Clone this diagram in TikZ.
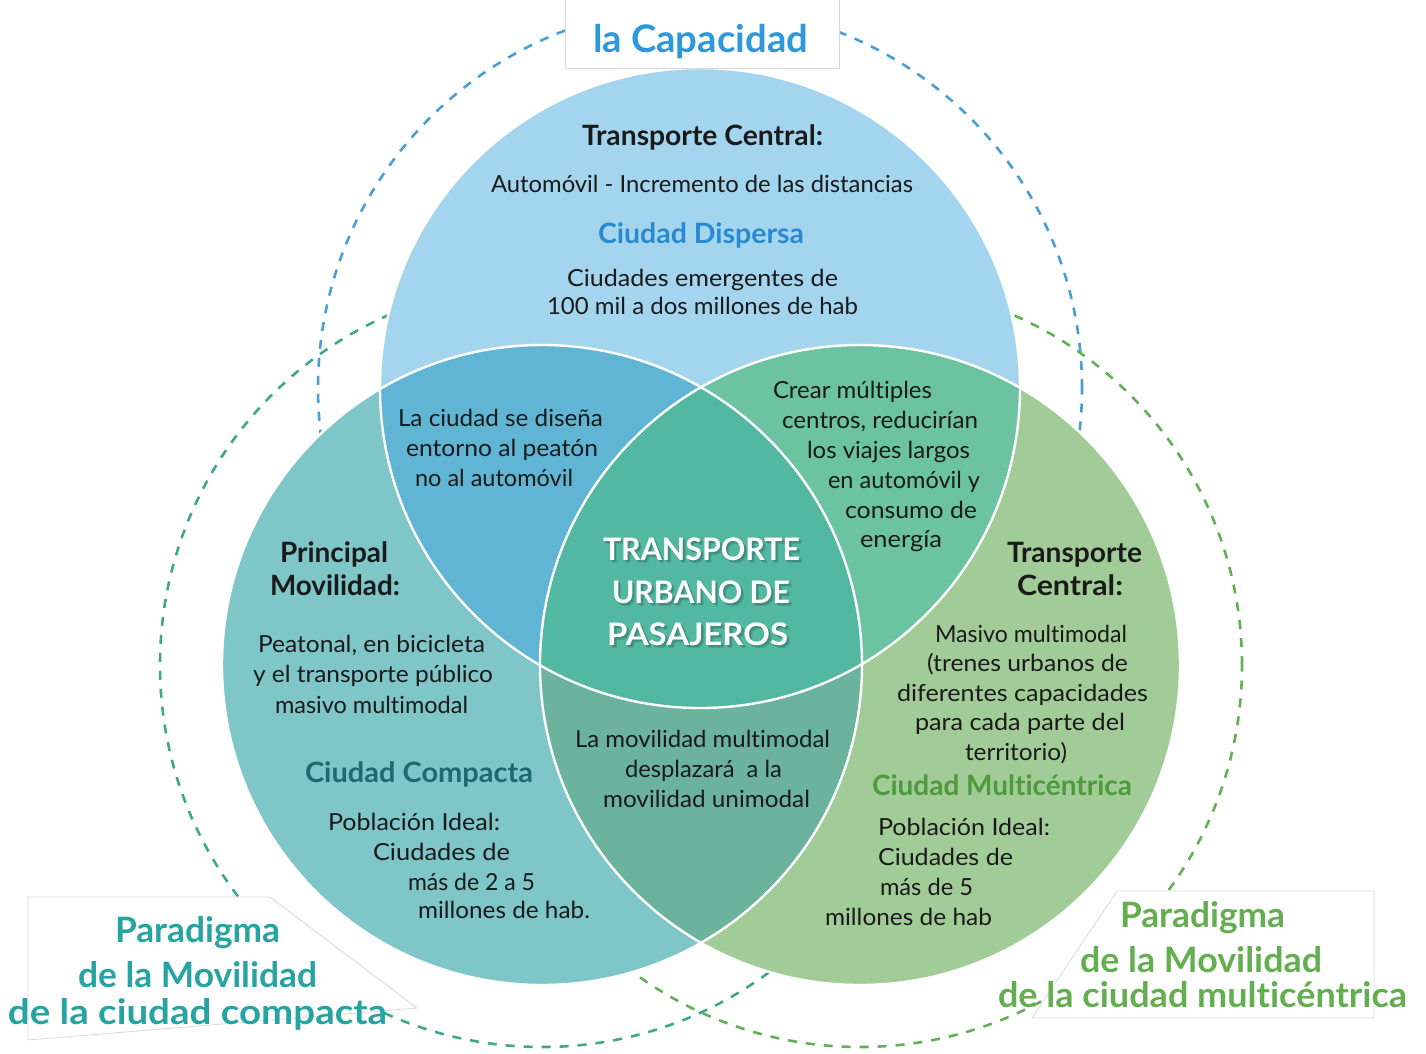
\documentclass[tikz,border=0pt]{standalone}
\usepackage{fontspec}
\usepackage{graphicx}
\setmainfont{Lato}[Ligatures={NoCommon}]
\definecolor{cTop}{HTML}{A4D5EE}
\definecolor{cLeft}{HTML}{7EC6C7}
\definecolor{cRight}{HTML}{A1CC97}
\definecolor{cTL}{HTML}{60B5D4}
\definecolor{cTR}{HTML}{6CC3A2}
\definecolor{cLR}{HTML}{6CB39E}
\definecolor{cC}{HTML}{53B8A1}
\definecolor{shA}{HTML}{4AA492}
\definecolor{shB}{HTML}{3E8F7F}
\definecolor{dBlue}{HTML}{4A9ED6}
\definecolor{dTeal}{HTML}{3DA98A}
\definecolor{dGreen}{HTML}{62B055}
\definecolor{ink}{HTML}{1A1A1A}
\definecolor{tBlue}{HTML}{2E98DA}
\definecolor{tBlueB}{HTML}{2A8ACF}
\definecolor{tTeal}{HTML}{27A4A1}
\definecolor{tDTeal}{HTML}{1F6A6C}
\definecolor{tGreen}{HTML}{63AF50}
\definecolor{tDGreen}{HTML}{4D9B3D}
\definecolor{boxline}{HTML}{DADADA}
\newsavebox\fwbox
\newcommand\fw[2]{\sbox\fwbox{#2}\pgfmathsetmacro\fwscale{#1/\the\wd\fwbox}\scalebox{\fwscale}[1]{\usebox\fwbox}}
% text with a soft dark shadow, kept inside the same node
\newcommand\shtext[1]{\rlap{\kern3pt\raisebox{-3pt}{\color{shA}#1}}\rlap{\kern2pt\raisebox{-2pt}{\color{shB}#1}}#1}
\tikzset{
  txt/.style={inner sep=0pt, outer sep=0pt, anchor=base west, text=ink, font=\fontsize{23.5}{28}\selectfont},
  hd/.style={txt, font=\fontsize{28}{32}\selectfont\bfseries},
  sub/.style={txt, font=\fontsize{28}{32}\selectfont\bfseries},
  ctr/.style={txt, text=white, font=\fontsize{31}{36}\selectfont\bfseries},
  para/.style={txt, font=\fontsize{35}{40}\selectfont\bfseries},
  dashring/.style={line width=2.6pt, dash pattern=on 9pt off 9pt},
  ring/.style={draw=white, line width=2.4pt},
  labelbox/.style={fill=white, draw=boxline, line width=0.8pt}
}
\begin{document}
\begin{tikzpicture}[x=1pt,y=-1pt]
\useasboundingbox (0,0) rectangle (1426,1053);
\fill[white] (0,0) rectangle (1426,1053);
\coordinate (T) at (700,388);
\coordinate (L) at (542,665);
\coordinate (R) at (860,665);
% dashed outer rings
\draw[dashring, dBlue] (T) circle (382pt);
\draw[dashring, dTeal] (L) circle (382pt);
\draw[dashring, dGreen] (R) circle (382pt);
% circles
\fill[cTop] (T) circle (320pt);
\fill[cLeft] (L) circle (320pt);
\fill[cRight] (R) circle (320pt);
\begin{scope}\clip (T) circle (320pt); \fill[cTL] (L) circle (320pt); \end{scope}
\begin{scope}\clip (T) circle (320pt); \fill[cTR] (R) circle (320pt); \end{scope}
\begin{scope}\clip (L) circle (320pt); \fill[cLR] (R) circle (320pt); \end{scope}
\begin{scope}\clip (T) circle (320pt); \clip (L) circle (320pt); \fill[cC] (R) circle (320pt); \end{scope}
\draw[ring] (T) circle (320pt);
\draw[ring] (L) circle (320pt);
\draw[ring] (R) circle (320pt);
% label boxes
\filldraw[labelbox] (565,-5) rectangle (839,68);
\filldraw[labelbox] (28,897) -- (270,897) -- (417,1008) -- (28,1040) -- cycle;
\filldraw[labelbox] (1117,891) -- (1374,891) -- (1374,1018) -- (1032,1018) -- cycle;
% label texts
\node[para, text=tBlue, font=\fontsize{38}{42}\selectfont\bfseries] (cap) at (593,52) {\fw{215}{la Capacidad}};
\node[para, text=tTeal] (pl1) at (115,942) {\fw{165}{Paradigma}};
\node[para, text=tTeal] (pl2) at (78,987) {\fw{239}{de la Movilidad}};
\node[para, text=tTeal] (pl3) at (8,1024) {\fw{379}{de la ciudad compacta}};
\node[para, text=tGreen] (pr1) at (1120,927) {\fw{165}{Paradigma}};
\node[para, text=tGreen] (pr2) at (1080,972) {\fw{242}{de la Movilidad}};
\node[para, text=tGreen] (pr3) at (998,1007) {\fw{409}{de la ciudad multicéntrica}};
% top circle
\node[hd] (t1) at (582,145) {\fw{241}{Transporte Central:}};
\node[txt] (t2) at (491,192) {\fw{422}{Automóvil - Incremento de las distancias}};
\node[sub, text=tBlueB] (t3) at (598,243) {\fw{206}{Ciudad Dispersa}};
\node[txt] (t4) at (567,286) {\fw{271}{Ciudades emergentes de}};
\node[txt] (t5) at (547,314) {\fw{311}{100 mil a dos millones de hab}};
% top-left lens
\node[txt] (a1) at (398,426) {\fw{205}{La ciudad se diseña}};
\node[txt] (a2) at (406,456) {\fw{192}{entorno al peatón}};
\node[txt] (a3) at (415,486) {\fw{158}{no al automóvil}};
% top-right lens
\node[txt] (b1) at (773,398) {\fw{159}{Crear múltiples}};
\node[txt] (b2) at (782,428) {\fw{196}{centros, reducirían}};
\node[txt] (b3) at (807,458) {\fw{163}{los viajes largos}};
\node[txt] (b4) at (828,488) {\fw{152}{en automóvil y}};
\node[txt] (b5) at (845,518) {\fw{132}{consumo de}};
\node[txt] (b6) at (860,547) {\fw{82}{energía}};
% centre
\node[ctr] (c1) at (603,560) {\fw{197}{\shtext{TRANSPORTE}}};
\node[ctr] (c2) at (612,603) {\fw{178}{\shtext{URBANO DE}}};
\node[ctr] (c3) at (607,645) {\fw{181}{\shtext{PASAJEROS}}};
% left circle
\node[hd] (l1) at (280,562) {\fw{108}{Principal}};
\node[hd] (l2) at (270,595) {\fw{130}{Movilidad:}};
\node[txt] (l3) at (258,652) {\fw{227}{Peatonal, en bicicleta}};
\node[txt] (l4) at (253,682) {\fw{240}{y el transporte público}};
\node[txt] (l5) at (275,713) {\fw{193}{masivo multimodal}};
\node[sub, text=tDTeal] (l6) at (305,782) {\fw{228}{Ciudad Compacta}};
\node[txt] (l7) at (328,830) {\fw{172}{Población Ideal:}};
\node[txt] (l8) at (373,860) {\fw{137}{Ciudades de}};
\node[txt] (l9) at (408,890) {\fw{127}{más de 2 a 5}};
\node[txt] (l10) at (418,918) {\fw{172}{millones de hab.}};
% bottom lens
\node[txt] (m1) at (575,747) {\fw{255}{La movilidad multimodal}};
\node[txt] (m2) at (625,777) {\fw{157}{desplazará \ a la}};
\node[txt] (m3) at (603,807) {\fw{207}{movilidad unimodal}};
% right circle
\node[hd] (r1) at (1007,562) {\fw{135}{Transporte}};
\node[hd] (r2) at (1017,595) {\fw{106}{Central:}};
\node[txt] (r3) at (935,642) {\fw{192}{Masivo multimodal}};
\node[txt] (r4) at (927,671) {\fw{201}{(trenes urbanos de}};
\node[txt] (r5) at (897,701) {\fw{251}{diferentes capacidades}};
\node[txt] (r6) at (915,730) {\fw{210}{para cada parte del}};
\node[txt] (r7) at (965,760) {\fw{102}{territorio)}};
\node[sub, text=tDGreen] (r8) at (872,795) {\fw{260}{Ciudad Multicéntrica}};
\node[txt] (r9) at (878,835) {\fw{172}{Población Ideal:}};
\node[txt] (r10) at (878,865) {\fw{135}{Ciudades de}};
\node[txt] (r11) at (880,895) {\fw{93}{más de 5}};
\node[txt] (r12) at (825,925) {\fw{167}{millones de hab}};
\end{tikzpicture}
\end{document}
